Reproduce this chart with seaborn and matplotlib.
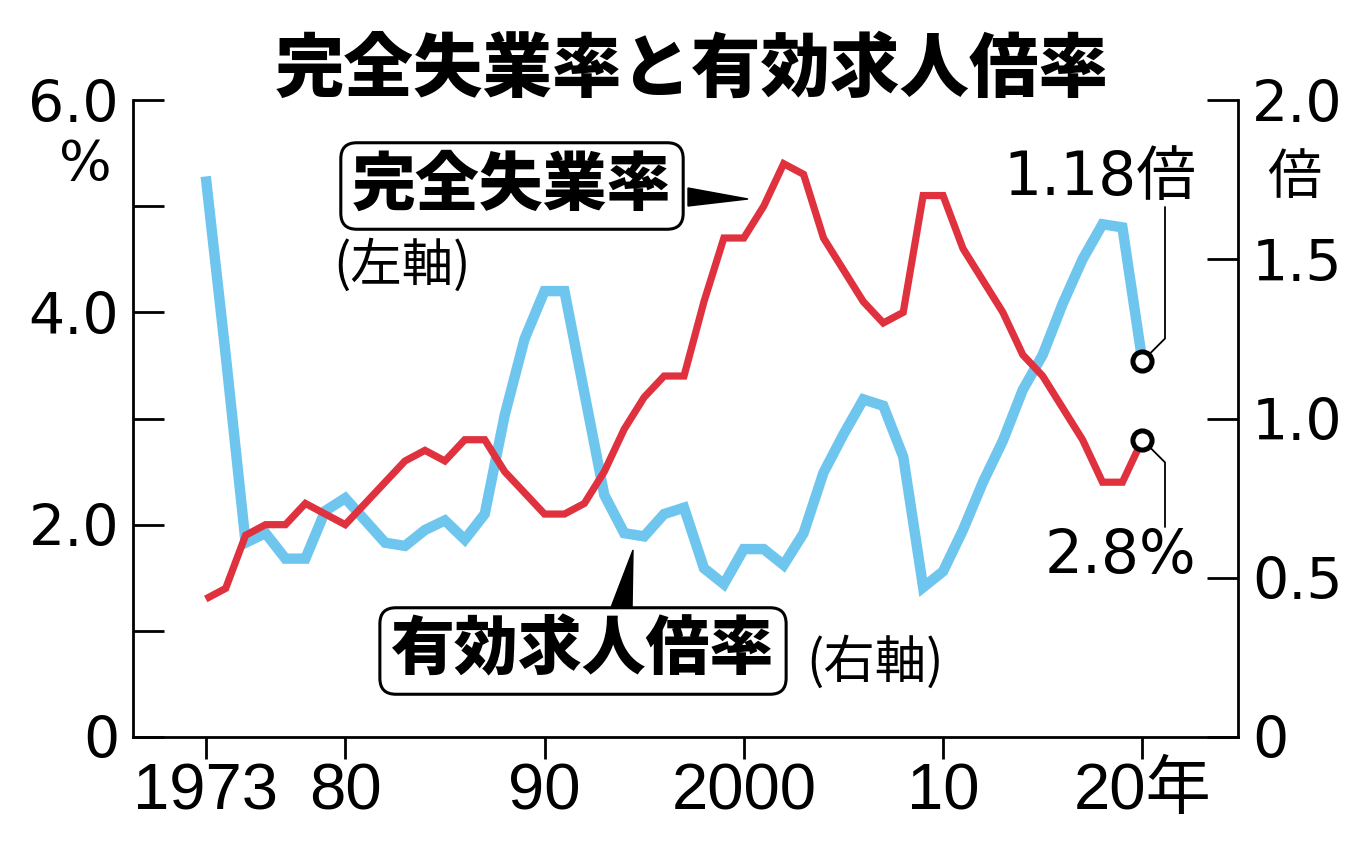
import matplotlib
matplotlib.use("Agg")
import matplotlib.pyplot as plt
import seaborn as sns
import pandas as pd
from matplotlib import font_manager
from matplotlib.patches import Polygon

# ---------------- data ----------------
years = list(range(1973, 2021))
unemployment = [1.3, 1.4, 1.9, 2.0, 2.0, 2.2, 2.1, 2.0, 2.2, 2.4,
                2.6, 2.7, 2.6, 2.8, 2.8, 2.5, 2.3, 2.1, 2.1, 2.2,
                2.5, 2.9, 3.2, 3.4, 3.4, 4.1, 4.7, 4.7, 5.0, 5.4,
                5.3, 4.7, 4.4, 4.1, 3.9, 4.0, 5.1, 5.1, 4.6, 4.3,
                4.0, 3.6, 3.4, 3.1, 2.8, 2.4, 2.4, 2.8]
job_ratio = [1.76, 1.20, 0.61, 0.64, 0.56, 0.56, 0.71, 0.75, 0.68, 0.61,
             0.60, 0.65, 0.68, 0.62, 0.70, 1.01, 1.25, 1.40, 1.40, 1.08,
             0.76, 0.64, 0.63, 0.70, 0.72, 0.53, 0.48, 0.59, 0.59, 0.54,
             0.64, 0.83, 0.95, 1.06, 1.04, 0.88, 0.47, 0.52, 0.65, 0.80,
             0.93, 1.09, 1.20, 1.36, 1.50, 1.61, 1.60, 1.18]
x_ticks = [1973, 1980, 1990, 2000, 2010, 2020]
x_tick_labels = ["1973", "80", "90", "2000", "10", "20年"]
left_ticks = [0, 1, 2, 3, 4, 5, 6]
left_tick_labels = ["0", "", "2.0", "", "4.0", "", "6.0"]
right_ticks = [0, 0.5, 1.0, 1.5, 2.0]
right_tick_labels = ["0", "0.5", "1.0", "1.5", "2.0"]

df = pd.DataFrame({"year": years, "unemp": unemployment, "ratio": job_ratio})

# ---------------- style ----------------
sns.set_theme(style="white")
JP = "Noto Sans CJK JP"
plt.rcParams["font.family"] = ["DejaVu Sans", JP]
plt.rcParams["text.color"] = "black"
names = {f.name for f in font_manager.fontManager.ttflist}
NARROW = "Liberation Sans Narrow" if "Liberation Sans Narrow" in names else "Liberation Sans"

W, H = 1372, 844
fig = plt.figure(figsize=(W / 100, H / 100), dpi=100)
fig.patch.set_facecolor("white")

def fy(y):
    return 1 - y / H

def fx(x):
    return x / W

L, R, T, B = 133, 1238, 100, 737
ax = fig.add_axes([fx(L), fy(B), fx(R) - fx(L), (B - T) / H])
ax2 = ax.twinx()

BLUE = "#6EC6EF"
RED = "#E0313E"

sns.lineplot(data=df, x="year", y="ratio", ax=ax2, color=BLUE, linewidth=7.5,
             solid_joinstyle="miter", solid_capstyle="butt")
sns.lineplot(data=df, x="year", y="unemp", ax=ax, color=RED, linewidth=5.2,
             solid_joinstyle="miter", solid_capstyle="butt")

# end markers
last = df.tail(1)
sns.scatterplot(data=last, x="year", y="ratio", ax=ax2, s=190, facecolor="white",
                edgecolor="black", linewidth=3.6, zorder=5)
sns.scatterplot(data=last, x="year", y="unemp", ax=ax, s=190, facecolor="white",
                edgecolor="black", linewidth=3.6, zorder=5)

ax.set_zorder(ax2.get_zorder() + 1)
ax.patch.set_visible(False)

ax.set_xlim(1969.35, 2024.8)
ax.set_ylim(0, 6)
ax2.set_ylim(0, 2)
for a in (ax, ax2):
    a.set_xlabel("")
    a.set_ylabel("")
    a.grid(False)
    a.spines["top"].set_visible(False)
    for s in a.spines.values():
        s.set_color("black")
        s.set_linewidth(2)
ax.spines["right"].set_visible(False)
ax2.spines["left"].set_visible(False)
ax2.spines["bottom"].set_visible(False)

ax.set_yticks(left_ticks)
ax.set_yticklabels(left_tick_labels)
ax2.set_yticks(right_ticks)
ax2.set_yticklabels(right_tick_labels)
ax.set_xticks(x_ticks)
ax.set_xticklabels(x_tick_labels)

ax.tick_params(axis="y", direction="in", length=22, width=2, labelsize=41,
               pad=10, colors="black", left=True)
ax2.tick_params(axis="y", direction="in", length=22, width=2, labelsize=41,
                pad=10, colors="black", right=True)
ax.tick_params(axis="x", direction="out", length=16, width=2, labelsize=47,
               pad=2, colors="black", bottom=True)
for lbl in ax.get_xticklabels():
    lbl.set_family([NARROW, JP])
for lbl in ax.get_yticklabels() + ax2.get_yticklabels():
    lbl.set_family(["DejaVu Sans"])

# ---------------- texts ----------------
fig.text(fx(692), fy(70), "完全失業率と有効求人倍率", ha="center", va="center",
         fontsize=50, fontweight="black", family=JP, color="black")
fig.text(fx(85), fy(165), "%", ha="center", va="center", fontsize=40,
         family=["DejaVu Sans"], color="black")
fig.text(fx(1294), fy(178), "倍", ha="center", va="center", fontsize=39,
         family=[JP], color="black")

box = dict(boxstyle="round,pad=0.18,rounding_size=0.25", fc="white",
           ec="black", lw=2.2)
fig.text(fx(512), fy(186), "完全失業率", ha="center", va="center",
         fontsize=46, fontweight="black", family=JP, bbox=box, zorder=10,
         color="black")
fig.text(fx(402), fy(266), "(左軸)", ha="center", va="center",
         fontsize=37, family=JP, color="black")
fig.text(fx(583), fy(651), "有効求人倍率", ha="center", va="center",
         fontsize=46, fontweight="black", family=JP, bbox=box, zorder=10,
         color="black")
fig.text(fx(875), fy(663), "(右軸)", ha="center", va="center",
         fontsize=37, family=JP, color="black")

# pointers
fig.patches.append(Polygon([(fx(688), fy(188)), (fx(688), fy(206)),
                            (fx(748), fy(199))], closed=True,
                           transform=fig.transFigure, fc="black", ec="black",
                           zorder=9))
fig.patches.append(Polygon([(fx(610), fy(610)), (fx(632), fy(610)),
                            (fx(633), fy(550))], closed=True,
                           transform=fig.transFigure, fc="black", ec="black",
                           zorder=9))

fig.text(fx(1100), fy(178), "1.18倍", ha="center", va="center", fontsize=43,
         family=["DejaVu Sans", JP], color="black")
fig.text(fx(1120), fy(557), "2.8%", ha="center", va="center", fontsize=43,
         family=["DejaVu Sans"], color="black")

# leader lines
ax2.annotate("", xy=(years[-1], job_ratio[-1]), xycoords="data",
             xytext=(1165, H - 207), textcoords="figure pixels",
             arrowprops=dict(arrowstyle="-", color="black", lw=1.3,
                             connectionstyle="angle,angleA=90,angleB=45,rad=0",
                             shrinkA=0, shrinkB=8))
ax.annotate("", xy=(years[-1], unemployment[-1]), xycoords="data",
            xytext=(1165, H - 527), textcoords="figure pixels",
            arrowprops=dict(arrowstyle="-", color="black", lw=1.3,
                            connectionstyle="angle,angleA=90,angleB=-45,rad=0",
                            shrinkA=0, shrinkB=8))

fig.savefig("out.png", dpi=100, facecolor="white")
